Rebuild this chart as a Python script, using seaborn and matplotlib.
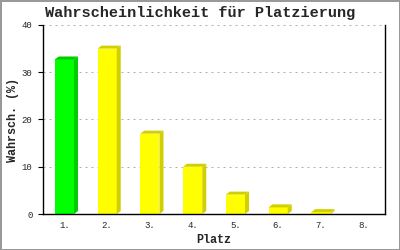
import matplotlib
matplotlib.use("Agg")
import matplotlib.pyplot as plt
import seaborn as sns
import pandas as pd
from matplotlib.patches import Polygon

categories = ["1.", "2.", "3.", "4.", "5.", "6.", "7.", "8."]
values = [32.7, 35.0, 17.0, 10.0, 4.1, 1.4, 0.4, 0.0]
front_colors = ["#00ff00"] + ["#ffff00"] * 7
side_colors = ["#00cc00"] + ["#d0d000"] * 7
yticks = [0, 10, 20, 30, 40]

sns.set_theme(style="white")
plt.rcParams["font.family"] = ["Liberation Mono", "DejaVu Sans Mono"]

df = pd.DataFrame({"Platz": categories, "Wert": values})

fig = plt.figure(figsize=(4, 2.5), dpi=100)
fig.patch.set_facecolor("white")
fig.patch.set_edgecolor("#999999")
fig.patch.set_linewidth(2)
ax = fig.add_axes([43 / 400, 1 - 214 / 250, 342 / 400, 189 / 250])

sns.barplot(data=df, x="Platz", y="Wert", hue="Platz", palette=front_colors,
            legend=False, width=0.45, saturation=1, ax=ax, zorder=3,
            edgecolor="none", linewidth=0)

ax.set_ylim(0, 40)
ax.set_xlim(-0.5, len(categories) - 0.5)
ax.set_yticks(yticks)
ax.set_yticklabels([str(t) for t in yticks])

for y in yticks[1:]:
    ax.axhline(y, color="#b0b0b0", lw=0.72, dashes=(2, 4), zorder=1)

# 3D depth faces
dx, dy = 4, 3
fig.canvas.draw()
for i, p in enumerate(ax.patches[:len(values)]):
    if p.get_height() <= 0:
        continue
    x0, y0 = p.get_x(), p.get_y()
    x1, y1 = x0 + p.get_width(), y0 + p.get_height()
    (px0, py0), (px1, py1) = ax.transData.transform([(x0, y0), (x1, y1)])
    col = side_colors[i]
    side = Polygon([(px1, py0), (px1, py1), (px1 + dx, py1 + dy), (px1 + dx, py0 + dy)],
                   closed=True, transform=None, facecolor=col, edgecolor="none", zorder=3)
    top = Polygon([(px0, py1), (px0 + dx, py1 + dy), (px1 + dx, py1 + dy), (px1, py1)],
                  closed=True, transform=None, facecolor=col, edgecolor="none", zorder=3)
    ax.add_artist(side)
    ax.add_artist(top)

for s in ["left", "bottom", "right"]:
    ax.spines[s].set_visible(True)
    ax.spines[s].set_color("black")
    ax.spines[s].set_linewidth(1.0)
ax.spines["top"].set_visible(False)
ax.spines["bottom"].set_zorder(5)

ax.tick_params(axis="y", which="both", left=True, length=3.6, width=0.8,
               color="black", labelsize=6.5, pad=4)
ax.tick_params(axis="x", which="both", bottom=False, length=0, labelsize=6.5, pad=5)

ax.set_xlabel("Platz", fontsize=8.5, fontweight="bold", labelpad=3)
ax.set_ylabel("Wahrsch. (%)", fontsize=8.5, fontweight="bold", labelpad=2)
fig.text(0.5, 1 - 13 / 250, "Wahrscheinlichkeit für Platzierung", fontsize=11,
         fontweight="bold", ha="center", va="center")

fig.savefig("out.png", dpi=100, facecolor="white", edgecolor=fig.get_edgecolor())
